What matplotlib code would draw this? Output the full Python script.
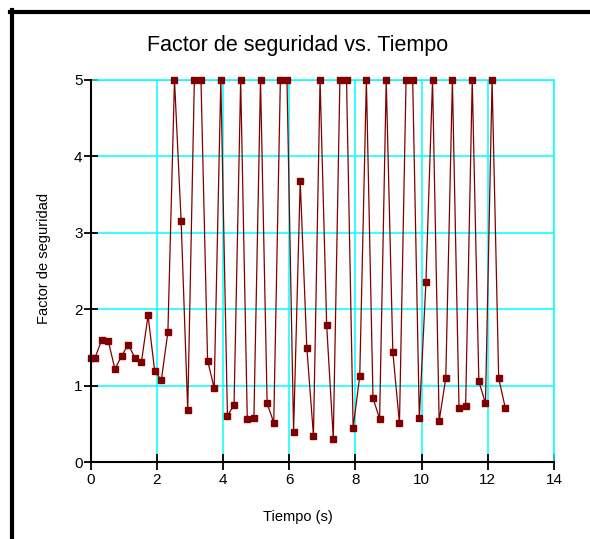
import matplotlib
matplotlib.use("Agg")
import matplotlib.pyplot as plt
from matplotlib.lines import Line2D

plt.rcParams['font.family'] = ['Liberation Sans', 'DejaVu Sans']

# Tiempo (s)
tiempo = [0.0, 0.13, 0.33, 0.53, 0.73, 0.93, 1.13, 1.33, 1.53, 1.73,
          1.93, 2.13, 2.33, 2.53, 2.73, 2.93, 3.13, 3.33, 3.53, 3.73,
          3.93, 4.13, 4.33, 4.53, 4.73, 4.93, 5.13, 5.33, 5.53, 5.73,
          5.93, 6.13, 6.33, 6.53, 6.73, 6.93, 7.13, 7.33, 7.53, 7.73,
          7.93, 8.13, 8.33, 8.53, 8.73, 8.93, 9.13, 9.33, 9.53, 9.73,
          9.93, 10.13, 10.33, 10.53, 10.73, 10.93, 11.13, 11.33, 11.53, 11.73,
          11.93, 12.13, 12.33, 12.53]

# Factor de seguridad (tope en 5)
factor = [1.37, 1.37, 1.60, 1.58, 1.22, 1.39, 1.54, 1.37, 1.31, 1.92,
          1.20, 1.07, 1.70, 5.0, 3.16, 0.68, 5.0, 5.0, 1.33, 0.97,
          5.0, 0.61, 0.75, 5.0, 0.57, 0.58, 5.0, 0.77, 0.52, 5.0,
          5.0, 0.40, 3.68, 1.50, 0.35, 5.0, 1.79, 0.31, 5.0, 5.0,
          0.45, 1.13, 5.0, 0.84, 0.57, 5.0, 1.44, 0.51, 5.0, 5.0,
          0.58, 2.36, 5.0, 0.54, 1.10, 5.0, 0.71, 0.73, 5.0, 1.06,
          0.77, 5.0, 1.10, 0.71]

xticks = [0, 2, 4, 6, 8, 10, 12, 14]
yticks = [0, 1, 2, 3, 4, 5]

fig = plt.figure(figsize=(5.90, 5.39), dpi=100)
ax = fig.add_axes([0.1539, 0.1423, 0.785, 0.7093])

ax.plot(tiempo, factor, color='#800000', lw=0.9, marker='s', ms=5,
        mfc='#800000', mec='#800000', clip_on=False, zorder=3)

ax.set_xlim(0, 14)
ax.set_ylim(0, 5)
ax.set_xticks(xticks)
ax.set_yticks(yticks)
ax.grid(True, color='#00ffff', lw=1.1)
ax.set_axisbelow(True)

for s in ['top', 'right']:
    ax.spines[s].set_color('#00ffff')
    ax.spines[s].set_linewidth(1.1)
for s in ['left', 'bottom']:
    ax.spines[s].set_color('black')
    ax.spines[s].set_linewidth(1.5)
    ax.spines[s].set_zorder(4)

ax.tick_params(axis='x', direction='inout', length=11, width=1.3,
               labelsize=11, pad=2)
ax.tick_params(axis='y', direction='inout', length=10, width=1.3,
               labelsize=11, pad=1)

fig.text(298 / 590, 1 - 45 / 539, 'Factor de seguridad vs. Tiempo',
         ha='center', va='center', fontsize=15.5)
fig.text(298 / 590, 1 - 517 / 539, 'Tiempo (s)', ha='center', va='center',
         fontsize=10.5)
fig.text(44 / 590, 1 - 258 / 539, 'Factor de seguridad', ha='center',
         va='center', rotation=90, fontsize=10.5)

# marco negro del recuadro original (recortado a la derecha y abajo)
fig.add_artist(Line2D([11.5 / 590, 11.5 / 590], [0, 1 - 10 / 539],
                      color='black', lw=3, transform=fig.transFigure))
fig.add_artist(Line2D([10 / 590, 1], [1 - 11.5 / 539, 1 - 11.5 / 539],
                      color='black', lw=3, transform=fig.transFigure))

fig.savefig('out.png', dpi=100)
